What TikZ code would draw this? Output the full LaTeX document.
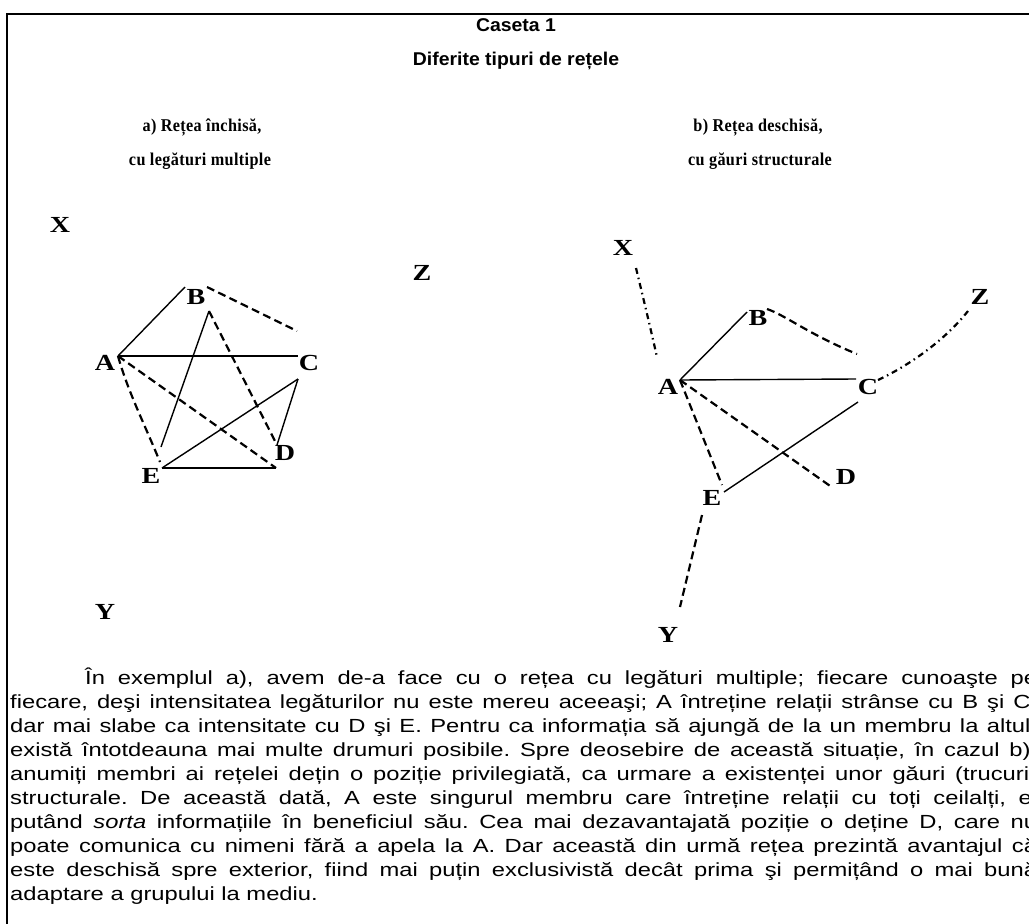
\documentclass[tikz,border=0pt]{standalone}
\usepackage{fontspec}
\setmainfont{Liberation Serif}[FakeStretch=1.22]
\newfontfamily\headf{Liberation Serif}[FakeStretch=0.9,LetterSpace=2]
\newfontfamily\arialf{Liberation Sans}[FakeStretch=1.25]
\newfontfamily\titlef{Liberation Sans}[FakeStretch=1.05]
\frenchspacing
\tikzset{
  lbl/.style={font=\fontsize{23}{25}\selectfont\bfseries, inner sep=0},
  hd/.style={font=\headf\fontsize{18}{20}\selectfont\bfseries, inner sep=0},
  ttl/.style={font=\titlef\fontsize{18.5}{20}\selectfont\bfseries, inner sep=0},
  body/.style={font=\arialf\fontsize{19}{24}\selectfont, inner sep=0, anchor=base west},
  solidl/.style={line width=1.4pt},
  dashl/.style={line width=2.2pt, dash pattern=on 8pt off 4.5pt},
  dashdotl/.style={line width=2.2pt, dash pattern=on 6pt off 4pt on 1.5pt off 4pt},
  framel/.style={line width=2pt}
}
\begin{document}
\begin{tikzpicture}[x=1pt,y=-1pt]
\useasboundingbox (0,0) rectangle (1029,924);
\clip (0,0) rectangle (1029,924);
% frame
\coordinate (f0) at (7,14);
\coordinate (f1) at (1040,14);
\coordinate (f2) at (7,930);
\draw[framel] (f1) -- (f0) -- (f2);
% titles
\node[ttl] (title) at (516,25) {Caseta 1};
\node[ttl] (subtitle) at (516,61) {Diferite tipuri de rețele};
\node[hd] (ha1) at (202,127) {a) Rețea închisă,};
\node[hd] (ha2) at (200,161) {cu legături multiple};
\node[hd] (hb1) at (758,127) {b) Rețea deschisă,};
\node[hd] (hb2) at (760,161) {cu găuri structurale};
% ---------- left network ----------
\node[lbl] (LX) at (60,225) {X};
\node[lbl] (LZ) at (422,273) {Z};
\node[lbl] (LB) at (196,297) {B};
\node[lbl] (LA) at (105,363) {A};
\node[lbl] (LC) at (309,363) {C};
\node[lbl] (LD) at (285,453) {D};
\node[lbl] (LE) at (151,476) {E};
\node[lbl] (LY) at (105,612) {Y};
\coordinate (la) at (118,356);
\coordinate (lb1) at (185,287);
\coordinate (lb2) at (207,287);
\coordinate (lb3) at (209,311);
\coordinate (lc1) at (298,356);
\coordinate (lc2) at (297,331);
\coordinate (lc3) at (298,379);
\coordinate (ld1) at (277,445);
\coordinate (ld2) at (276,468);
\coordinate (le1) at (161,447);
\coordinate (le2) at (160,462);
\coordinate (le3) at (162,468);
\draw[solidl] (la) -- (lb1);
\draw[solidl] (la) -- (lc1);
\draw[dashl] (lb2) -- (lc2);
\draw[dashl] (lb3) -- (ld1);
\draw[solidl] (lb3) -- (le1);
\draw[dashl] (la) -- (ld2);
\draw[dashl] (la) .. controls (128,392) and (145,425) .. (le2);
\draw[solidl] (lc3) -- (le3);
\draw[solidl] (lc3) -- (ld1);
\draw[solidl] (le3) -- (ld2);
% ---------- right network ----------
\node[lbl] (RX) at (623,248) {X};
\node[lbl] (RZ) at (980,297) {Z};
\node[lbl] (RB) at (758,318) {B};
\node[lbl] (RA) at (668,387) {A};
\node[lbl] (RC) at (868,387) {C};
\node[lbl] (RD) at (846,477) {D};
\node[lbl] (RE) at (712,498) {E};
\node[lbl] (RY) at (668,635) {Y};
\coordinate (ra) at (680,380);
\coordinate (rx) at (636,268);
\coordinate (rxa) at (657,357);
\coordinate (rb1) at (747,312);
\coordinate (rb2) at (767,309);
\coordinate (rc1) at (856,379);
\coordinate (rc2) at (857,354);
\coordinate (rc3) at (858,402);
\coordinate (rc4) at (878,380);
\coordinate (rz) at (968,311);
\coordinate (rd) at (833,488);
\coordinate (re1) at (722,485);
\coordinate (re2) at (724,492);
\coordinate (re3) at (702,515);
\coordinate (ry) at (680,607);
\draw[dashdotl] (rx) .. controls (645,305) and (652,335) .. (rxa);
\draw[solidl] (ra) -- (rb1);
\draw[solidl] (ra) -- (rc1);
\draw[dashl] (rb2) .. controls (785,315) and (810,335) .. (rc2);
\draw[dashl] (ra) -- (rd);
\draw[dashl] (ra) -- (re1);
\draw[solidl] (rc3) -- (re2);
\draw[dashdotl] (rc4) .. controls (910,365) and (945,340) .. (rz);
\draw[dashl] (re3) -- (ry);
% ---------- body text ----------
\node[body] (t1) at (85,684) {\makebox[952pt][s]{În exemplul a), avem de-a face cu o rețea cu legături multiple; fiecare cunoaşte pe}};
\node[body] (t2) at (10,708) {\makebox[1027pt][s]{fiecare, deşi intensitatea legăturilor nu este mereu aceeaşi; A întreține relații strânse cu B şi C,}};
\node[body] (t3) at (10,732) {\makebox[1027pt][s]{dar mai slabe ca intensitate cu D şi E. Pentru ca informația să ajungă de la un membru la altul,}};
\node[body] (t4) at (10,756) {\makebox[1027pt][s]{există întotdeauna mai multe drumuri posibile. Spre deosebire de această situație, în cazul b),}};
\node[body] (t5) at (10,780) {\makebox[1027pt][s]{anumiți membri ai rețelei dețin o poziție privilegiată, ca urmare a existenței unor găuri (trucuri)}};
\node[body] (t6) at (10,804) {\makebox[1027pt][s]{structurale. De această dată, A este singurul membru care întreține relații cu toți ceilalți, el}};
\node[body] (t7) at (10,828) {\makebox[1027pt][s]{putând \textit{sorta} informațiile în beneficiul său. Cea mai dezavantajată poziție o deține D, care nu}};
\node[body] (t8) at (10,852) {\makebox[1027pt][s]{poate comunica cu nimeni fără a apela la A. Dar această din urmă rețea prezintă avantajul că}};
\node[body] (t9) at (10,876) {\makebox[1027pt][s]{este deschisă spre exterior, fiind mai puțin exclusivistă decât prima şi permițând o mai bună}};
\node[body] (t10) at (10,900) {adaptare a grupului la mediu.};
\end{tikzpicture}
\end{document}
